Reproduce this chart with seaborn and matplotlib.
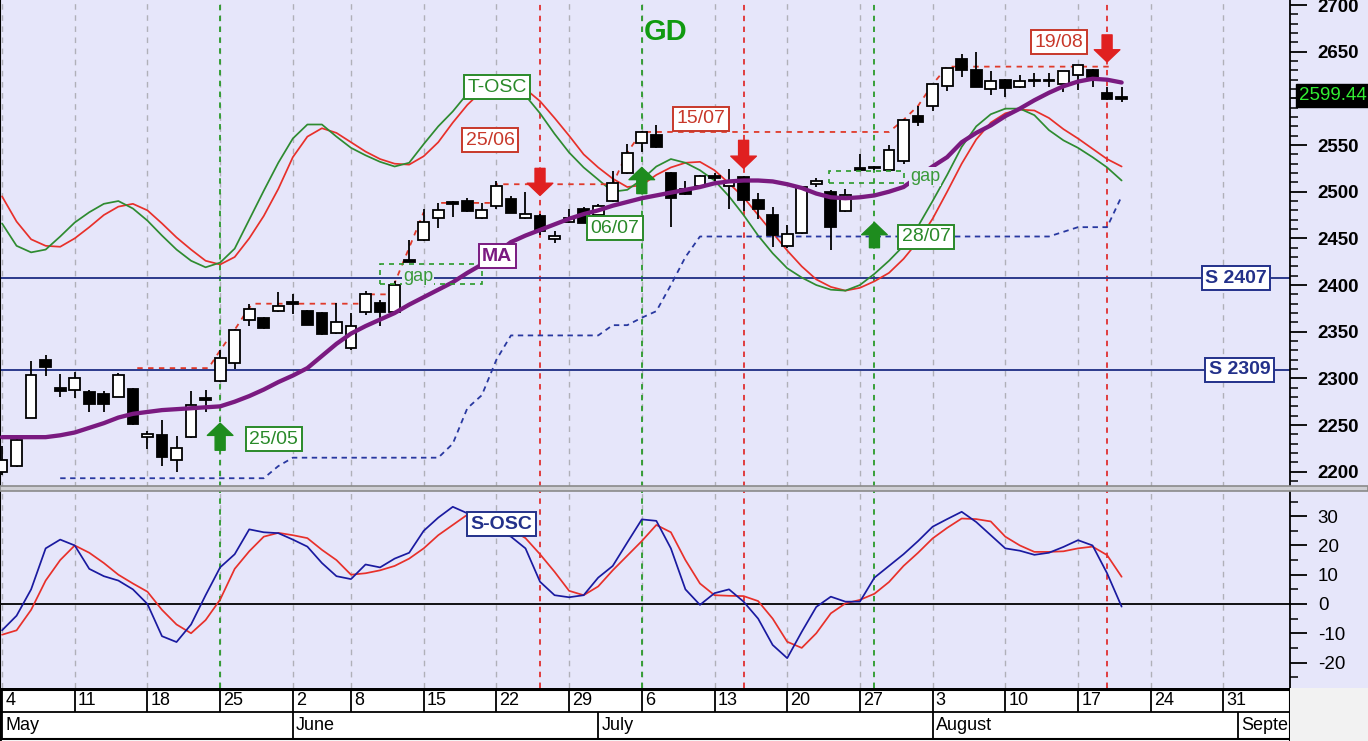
import numpy as np
import pandas as pd
import matplotlib
matplotlib.use("Agg")
import matplotlib.pyplot as plt
import seaborn as sns
from matplotlib.patches import Rectangle

sns.set_theme(style="white")
plt.rcParams['font.family'] = ['Liberation Sans', 'DejaVu Sans']
plt.rcParams['axes.unicode_minus'] = False

# ---------------- data (trading-day index 0 = 4 May) ----------------
opens = [2200, 2206, 2258, 2320, 2290, 2288, 2285, 2283, 2280, 2289,
         2237, 2239, 2213, 2237, 2279, 2297, 2316, 2362, 2365, 2372,
         2382, 2372, 2370, 2349, 2332, 2371, 2381, 2371, 2427, 2448,
         2472, 2489, 2490, 2472, 2485, 2492, 2472, 2474, 2449, 2468,
         2482, 2475, 2490, 2520, 2552, 2561, 2520, 2503, 2506, 2517,
         2506, 2516, 2491, 2475, 2442, 2456, 2508, 2500, 2479, 2525,
         2527, 2523, 2533, 2581, 2592, 2613, 2642, 2630, 2610, 2620,
         2612, 2620, 2619, 2615, 2625, 2630, 2606, 2601]
highs = [2228, 2238, 2319, 2325, 2305, 2307, 2288, 2286, 2306, 2290,
         2244, 2255, 2238, 2286, 2288, 2330, 2353, 2380, 2366, 2392,
         2390, 2373, 2371, 2381, 2370, 2394, 2384, 2404, 2448, 2482,
         2488, 2490, 2493, 2488, 2511, 2495, 2500, 2476, 2458, 2481,
         2484, 2487, 2522, 2551, 2565, 2572, 2521, 2512, 2518, 2520,
         2524, 2517, 2499, 2484, 2464, 2505, 2515, 2502, 2503, 2540,
         2528, 2550, 2578, 2592, 2615, 2633, 2648, 2650, 2629, 2621,
         2625, 2627, 2627, 2629, 2636, 2631, 2612, 2612]
lows = [2196, 2205, 2257, 2302, 2280, 2279, 2264, 2264, 2280, 2250,
        2224, 2206, 2200, 2236, 2264, 2296, 2310, 2356, 2353, 2371,
        2369, 2357, 2346, 2348, 2330, 2368, 2356, 2370, 2425, 2447,
        2461, 2473, 2478, 2471, 2481, 2477, 2471, 2454, 2445, 2466,
        2466, 2474, 2489, 2519, 2543, 2547, 2462, 2497, 2505, 2512,
        2482, 2479, 2471, 2441, 2440, 2455, 2505, 2437, 2478, 2523,
        2523, 2522, 2530, 2570, 2587, 2608, 2623, 2612, 2604, 2602,
        2611, 2612, 2612, 2607, 2609, 2612, 2598, 2596]
closes = [2212, 2234, 2304, 2312, 2286, 2300, 2272, 2273, 2304, 2251,
          2240, 2216, 2225, 2271, 2277, 2322, 2352, 2374, 2354, 2377,
          2380, 2357, 2347, 2360, 2356, 2390, 2371, 2400, 2425, 2468,
          2480, 2487, 2479, 2480, 2506, 2477, 2476, 2458, 2453, 2472,
          2466, 2485, 2509, 2542, 2564, 2548, 2493, 2498, 2517, 2515,
          2511, 2491, 2482, 2454, 2455, 2505, 2512, 2462, 2496, 2523,
          2525, 2545, 2577, 2575, 2615, 2633, 2630, 2612, 2619, 2611,
          2619, 2619, 2620, 2629, 2636, 2623, 2599, 2599.44]
ma = [2237, 2237, 2237, 2237, 2239, 2242, 2247, 2252, 2258, 2262,
      2264, 2266, 2267, 2268, 2269, 2270, 2275, 2281, 2288, 2296,
      2303, 2311, 2324, 2337, 2348, 2356, 2363, 2370, 2379, 2387,
      2395, 2403, 2413, 2422, 2434, 2446, 2453, 2459, 2465, 2471,
      2476, 2480, 2485, 2489, 2493, 2496, 2499, 2502, 2505, 2509,
      2511, 2512, 2512, 2511, 2508, 2504, 2498, 2494, 2493, 2494,
      2496, 2500, 2505, 2516, 2527, 2537, 2553, 2563, 2571, 2581,
      2589, 2598, 2606, 2613, 2618, 2621, 2620, 2617]
tosc_green = [2466, 2442, 2435, 2438, 2452, 2467, 2478, 2487, 2490, 2482,
              2469, 2453, 2438, 2426, 2419, 2424, 2439, 2470, 2501, 2531,
              2557, 2572, 2572, 2559, 2547, 2539, 2532, 2527, 2531, 2551,
              2570, 2586, 2605, 2617, 2621, 2614, 2603, 2584, 2562, 2542,
              2526, 2513, 2500, 2502, 2513, 2527, 2535, 2531, 2523, 2512,
              2495, 2475, 2453, 2434, 2418, 2408, 2400, 2395, 2394, 2400,
              2412, 2426, 2442, 2463, 2490, 2518, 2548, 2570, 2583, 2589,
              2589, 2582, 2566, 2555, 2547, 2537, 2526, 2512]
tosc_red = [2495, 2468, 2449, 2442, 2441, 2450, 2462, 2475, 2484, 2487,
            2480, 2466, 2451, 2438, 2426, 2422, 2430, 2450, 2474, 2503,
            2537, 2559, 2568, 2563, 2553, 2543, 2535, 2530, 2529, 2538,
            2553, 2574, 2593, 2608, 2617, 2617, 2610, 2597, 2579, 2560,
            2540, 2526, 2514, 2505, 2507, 2518, 2526, 2531, 2532, 2523,
            2509, 2494, 2475, 2456, 2437, 2420, 2406, 2398, 2394, 2397,
            2404, 2413, 2428, 2447, 2471, 2500, 2530, 2556, 2574, 2584,
            2588, 2587, 2579, 2567, 2557, 2546, 2535, 2527]
stop_line = [np.nan, np.nan, np.nan, np.nan, 2193, 2193, 2193, 2193, 2193, 2193,
             2193, 2193, 2193, 2193, 2193, 2193, 2193, 2193, 2193, 2206,
             2215, 2215, 2215, 2215, 2215, 2215, 2215, 2215, 2215, 2215,
             2215, 2230, 2268, 2282, 2320, 2346, 2346, 2346, 2346, 2346,
             2346, 2346, 2357, 2357, 2365, 2372, 2400, 2430, 2452, 2452,
             2452, 2452, 2452, 2452, 2452, 2452, 2452, 2452, 2452, 2452,
             2452, 2452, 2452, 2452, 2452, 2452, 2452, 2452, 2452, 2452,
             2452, 2452, 2452, 2457, 2462, 2462, 2462, 2495]
sosc_blue = [-9, -4, 5, 19, 22, 20, 12, 9.5, 8, 5,
             0, -11, -13, -7, 3, 12.5, 17, 25.5, 24.5, 24.2,
             22, 19.6, 14, 9.5, 8.5, 13.5, 12.5, 15.5, 17.5, 25,
             29.5, 33.2, 31, 28, 25, 23, 19, 7.6, 3, 2.3,
             3, 9, 13, 21, 28.9, 28.4, 19, 5, -0.3, 3.7,
             5, 0.8, -5, -14, -18.5, -9.5, -1, 2.5, 0.8, 0.8,
             9, 13, 17, 21.5, 26.4, 29, 31.5, 28, 23.5, 19,
             18.2, 16.8, 17.5, 19.5, 21.8, 20, 10.5, -0.9]
sosc_red = [-10.5, -9, -2, 8, 15, 20, 17.5, 14, 10, 7,
            4.2, -2, -7, -10, -5.5, 1.5, 12, 18, 23, 24.3,
            23.5, 22.5, 18.5, 15, 10, 10.5, 11.5, 13, 15.5, 19,
            23.5, 27, 30.5, 29, 27.5, 25.5, 22.5, 17, 11, 4.5,
            3, 6, 11.5, 16.5, 21.5, 27, 24.5, 15, 7, 3,
            2.8, 2.7, 1, -5, -12.9, -15, -10, -3.2, 0.2, 1.4,
            3.5, 7.5, 13, 17.5, 22.4, 26, 29.2, 29, 28.2, 23,
            20, 17.8, 17.8, 18, 19, 19.6, 16.7, 9.3]

week_idx = [0, 5, 10, 15, 20, 24, 29, 34, 39, 44, 49, 54, 59, 64, 69, 74, 79, 84]
week_labels = ['4', '11', '18', '25', '2', '8', '15', '22', '29', '6', '13', '20',
               '27', '3', '10', '17', '24', '31']
month_idx = [0, 20, 41, 64, 85]
month_labels = ['May', 'June', 'July', 'August', 'Septe']

price_ticks = [2200, 2250, 2300, 2350, 2400, 2450, 2500, 2550, 2600, 2650, 2700]
price_tick_labels = ['2200', '2250', '2300', '2350', '2400', '2450', '2500', '2550', '', '2650', '2700']
osc_ticks = [-20, -10, 0, 10, 20, 30]

green_signal_idx = [15, 44, 60]
red_signal_idx = [37, 51, 76]
support_levels = [2407, 2309]
support_labels = ['S 2407', 'S 2309']

# red dashed resistance / breakout path
res_x = [9.3, 14.2, 15.0, 16.0, 17.0, 17.4, 24.6, 25.0, 26.9, 27.0, 28.0, 29.0]
res_y = [2311, 2311, 2330, 2352, 2376, 2380, 2380, 2390, 2390, 2402, 2440, 2478]
res2_x = [30.2, 33.6, 34.0, 42.0, 43.0, 44.0, 61.0, 62.0, 63.0, 64.0, 65.0, 76.2]
res2_y = [2488, 2488, 2508, 2508, 2542, 2564, 2564, 2577, 2592, 2615, 2634, 2634]

# ---------------- layout ----------------
FW, FH = 1368, 741
PW = 1290
BG = '#E6E6FA'
fig = plt.figure(figsize=(FW / 100, FH / 100), dpi=100)
fig.patch.set_facecolor(BG)

def fy(py):
    return 1 - py / FH

ax = fig.add_axes([0, fy(487), PW / FW, 487 / FH])
ax2 = fig.add_axes([0, fy(688), PW / FW, (688 - 491) / FH])
axd = fig.add_axes([0, 0, PW / FW, (741 - 688) / FH])

XL = (-0.14, 88.58)
for a in (ax, ax2):
    a.set_facecolor(BG)
    a.set_xlim(XL)
    a.set_xticks([])
    for s in ('top', 'bottom'):
        a.spines[s].set_visible(False)
    a.spines['left'].set_color('black')
    a.spines['left'].set_linewidth(1.5)
    a.spines['right'].set_color('black')
    a.spines['right'].set_linewidth(1.3)
    for w in week_idx:
        a.axvline(w, color='#b0b0b8', ls=(0, (4, 4)), lw=1.0, zorder=1)
    for g in green_signal_idx:
        a.axvline(g, color='#2a9a2a', ls=(0, (3, 3)), lw=1.3, zorder=2)
    for r in red_signal_idx:
        a.axvline(r, color='#e03030', ls=(0, (3, 3)), lw=1.3, zorder=2)

ax.set_ylim(2183.6, 2705.4)
ax2.set_ylim(-28.7, 38.6)

df = pd.DataFrame(dict(i=np.arange(len(closes)), o=opens, h=highs, l=lows, c=closes,
                       ma=ma, tg=tosc_green, tr=tosc_red, stop=stop_line,
                       sb=sosc_blue, sr=sosc_red))

# support lines
for lvl in support_levels:
    ax.axhline(lvl, color='#2b3a8c', lw=1.4, zorder=2)

# T-OSC
sns.lineplot(data=df, x='i', y='tr', ax=ax, color='#e8302a', lw=1.25, zorder=3)
sns.lineplot(data=df, x='i', y='tg', ax=ax, color='#2e8b30', lw=1.25, zorder=3)
# trailing stop
sns.lineplot(data=df, x='i', y='stop', ax=ax, color='#2838a0', lw=1.3,
             dashes=False, zorder=3).lines[-1].set_linestyle((0, (3, 2.5)))
# resistance path
ax.plot(res_x, res_y, color='#e03a2a', lw=1.3, ls=(0, (3, 3)), zorder=3)
ax.plot(res2_x, res2_y, color='#e03a2a', lw=1.3, ls=(0, (3, 3)), zorder=3)

# candles
up = df.c >= df.o
ax.vlines(df.i, df.l, df.h, color='black', lw=1.3, zorder=4)
body_bottom = np.minimum(df.o, df.c)
body_h = np.maximum(np.abs(df.c - df.o), 0.8)
ax.bar(df.i, body_h, bottom=body_bottom, width=0.74,
       color=np.where(up, 'white', 'black'), edgecolor='black', linewidth=1.3, zorder=5)

# MA
sns.lineplot(data=df, x='i', y='ma', ax=ax, color='#7a1a80', lw=3.1, zorder=6)

# gap boxes
ax.add_patch(Rectangle((26.0, 2401), 7.0, 21, fill=False, ec='#2a9a2a', lw=1.2,
                       ls=(0, (3, 3)), zorder=7))
ax.add_patch(Rectangle((56.9, 2509), 5.1, 13, fill=False, ec='#2a9a2a', lw=1.2,
                       ls=(0, (3, 3)), zorder=7))
ax.text(28.6, 2409, 'gap', color='#3a9a3a', fontsize=13, ha='center', va='center', zorder=8,
        bbox=dict(boxstyle='square,pad=0.05', fc=BG, ec='none'))
ax.text(63.5, 2516, 'gap', color='#3a9a3a', fontsize=13, ha='center', va='center', zorder=8,
        bbox=dict(boxstyle='square,pad=0.05', fc=BG, ec='none'))

def label(a, x, y, s, color, ec=None, fs=13, weight='normal', fc='white', pad=0.18):
    a.text(x, y, s, color=color, fontsize=fs, fontweight=weight, ha='center', va='center',
           zorder=10, bbox=dict(boxstyle=f'square,pad={pad}', fc=fc, ec=ec or color, lw=1.4))

GREEN_T = '#2a8a2a'
RED_T = '#c8382a'
label(ax, 34.05, 2612, 'T-OSC', GREEN_T, fs=14)
label(ax, 33.56, 2555, '25/06', RED_T, fs=14)
label(ax, 34.05, 2431, 'MA', '#7a1a80', fs=14, weight='bold')
label(ax, 42.16, 2461, '06/07', GREEN_T, fs=14)
label(ax, 48.07, 2578, '15/07', RED_T, fs=14)
label(ax, 63.55, 2452, '28/07', GREEN_T, fs=14)
label(ax, 72.7, 2660, '19/08', RED_T, fs=14)
label(ax, 18.7, 2235, '25/05', GREEN_T, fs=14)
for lvl, s, xi in zip(support_levels, support_labels, [84.87, 85.1]):
    label(ax, xi, lvl, s, '#23318a', fs=14, weight='bold')
ax.text(45.6, 2671, 'GD', color='#109a10', fontsize=21, fontweight='bold',
        ha='center', va='center', zorder=10)

# arrows
def arrow(a, x, y_tail, y_tip, color):
    a.annotate('', xy=(x, y_tip), xytext=(x, y_tail), zorder=9,
               arrowprops=dict(arrowstyle='simple,head_length=0.55,head_width=1.15,tail_width=0.45',
                               color=color, shrinkA=0, shrinkB=0, mutation_scale=16))

for xi, yt, yp in [(15, 2223, 2252), (44, 2498, 2526), (60, 2440, 2467)]:
    arrow(ax, xi, yt, yp, '#1e8c1e')
for xi, yt, yp in [(37, 2525, 2496), (51, 2555, 2525), (76, 2668, 2639)]:
    arrow(ax, xi, yt, yp, '#e02020')

# last price label
ax.text(1333 / PW, 2603, '2599.44', transform=ax.get_yaxis_transform(), color='#33ee33',
        fontsize=13.5, ha='center', va='center', clip_on=False, zorder=11,
        bbox=dict(boxstyle='square,pad=0.15', fc='black', ec='black'))

# right axis ticks
ax.yaxis.tick_right()
ax.set_yticks(price_ticks)
ax.set_yticklabels(price_tick_labels)
ax.set_yticks(np.arange(2190, 2706, 10), minor=True)
ax.tick_params(axis='y', which='major', direction='out', length=12, width=1.3,
               color='black', labelsize=13.5, pad=8, right=True, left=False, labelcolor='black')
ax.tick_params(axis='y', which='minor', direction='out', length=6, width=1.1,
               color='black', right=True, left=False)
for t in ax.get_yticklabels():
    t.set_fontweight('bold')
ax.set_xlabel('')
ax.set_ylabel('')

# ---------------- lower panel ----------------
ax2.axhline(0, color='black', lw=1.3, zorder=2)
sns.lineplot(data=df, x='i', y='sr', ax=ax2, color='#e8302a', lw=1.25, zorder=3)
sns.lineplot(data=df, x='i', y='sb', ax=ax2, color='#1a1aa0', lw=1.25, zorder=4)
label(ax2, 34.35, 27.3, 'S-OSC', '#23318a', fs=14, weight='bold')
ax2.yaxis.tick_right()
ax2.set_yticks(osc_ticks)
ax2.set_yticks(np.arange(-25, 36, 5), minor=True)
ax2.tick_params(axis='y', which='major', direction='out', length=12, width=1.3,
                color='black', labelsize=13.5, pad=8, right=True, left=False, labelcolor='black')
ax2.tick_params(axis='y', which='minor', direction='out', length=6, width=1.1,
                color='black', right=True, left=False)
ax2.set_xlabel('')
ax2.set_ylabel('')

# ---------------- separator & date axis ----------------
fig.patches.append(Rectangle((0, fy(491)), 1, 5 / FH, transform=fig.transFigure,
                             fc='#cfcfd4', ec='#8a8a8a', lw=1.2, zorder=5))
fig.patches.append(Rectangle((PW / FW, 0), 1 - PW / FW, 53 / FH, transform=fig.transFigure,
                             fc='#f2f2f2', ec='none', zorder=0))

axd.set_xlim(XL)
axd.set_ylim(0, 53)
axd.set_facecolor('white')
axd.set_xticks([])
axd.set_yticks([])
for s in axd.spines.values():
    s.set_visible(False)
axd.axhline(52.2, color='black', lw=2.2)
axd.axhline(29, color='black', lw=1.3)
axd.axhline(2.2, color='black', lw=1.5)
axd.axvline(XL[0], color='black', lw=2)
axd.axvline(XL[1], color='black', lw=1.5)
axd.vlines(week_idx, 29, 53, color='black', lw=1.3)
axd.vlines(month_idx, 2, 29, color='black', lw=1.3)
for w, s in zip(week_idx, week_labels):
    axd.text(w + 0.22, 40.5, s, fontsize=13, ha='left', va='center', color='black')
for m, s in zip(month_idx, month_labels):
    axd.text(m + 0.22, 15, s, fontsize=13, ha='left', va='center', color='black', clip_on=True)

fig.savefig('out.png', dpi=100, facecolor=fig.get_facecolor())
